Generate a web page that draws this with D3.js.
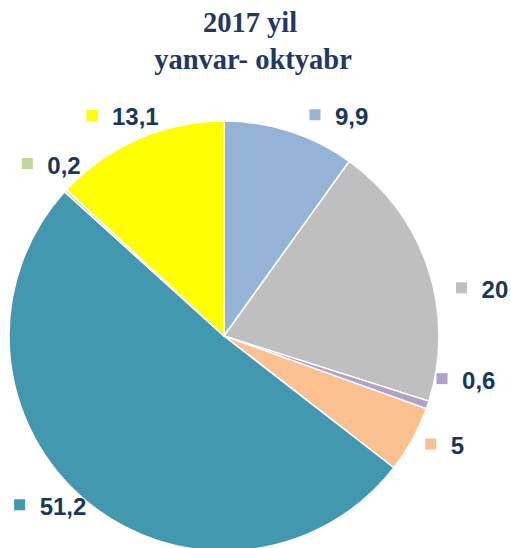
<!DOCTYPE html>
<html>
<head>
<meta charset="utf-8">
<script src="https://cdn.jsdelivr.net/npm/d3@7"></script>
<style>
  body { margin: 0; background: #fff; }
</style>
</head>
<body>
<div id="container"></div>
<script>
// slice values, clockwise from 12 o'clock
var values = [9.9, 20, 0.6, 5, 51.2, 0.2, 13.1];
var labels = ["9,9", "20", "0,6", "5", "51,2", "0,2", "13,1"];
var colors = ["#95B3D7", "#BFBFBF", "#B3A2C7", "#FAC090", "#4198AF", "#C3D69B", "#FFFF00"];
var titleLines = ["2017 yil", "yanvar- oktyabr"];

// manual label nudges (labels were dragged in the original)
var nudges = [[16, 12], [5, 29], [-14, -36], [-8, -10], [-47, -19], [-16, -7], [-34, 4]];

var width = 511, height = 548;
var cx = 224, cy = 336, radius = 215;

var svg = d3.select("#container")
  .append("svg")
  .attr("width", width)
  .attr("height", height);

// title
svg.append("g")
  .selectAll("text")
  .data(titleLines)
  .enter().append("text")
  .attr("x", function(d, i) { return i == 0 ? 250 : 253; })
  .attr("y", function(d, i) { return 32 + i * 36.5; })
  .attr("text-anchor", "middle")
  .attr("font-family", "'Liberation Serif', 'Times New Roman', serif")
  .attr("font-weight", "bold")
  .attr("font-size", "28.5px")
  .attr("fill", "#1F3864")
  .text(function(d) { return d; });

var pie = d3.pie().sort(null).value(function(d) { return d; });
var arcs = pie(values);

var arc = d3.arc().innerRadius(0).outerRadius(radius);
var labelArc = d3.arc().innerRadius(245).outerRadius(245);

var g = svg.append("g")
  .attr("transform", "translate(" + cx + "," + cy + ")");

g.selectAll("path")
  .data(arcs)
  .enter().append("path")
  .attr("d", arc)
  .attr("fill", function(d, i) { return colors[i]; })
  .attr("stroke", "#fff")
  .attr("stroke-width", 1.5);

var lab = g.selectAll("g.label")
  .data(arcs)
  .enter().append("g")
  .attr("class", "label")
  .attr("transform", function(d, i) {
    var p = labelArc.centroid(d);
    return "translate(" + (p[0] + nudges[i][0]) + "," + (p[1] + nudges[i][1]) + ")";
  });

lab.append("rect")
  .attr("x", -5.5)
  .attr("y", -5.5)
  .attr("width", 11)
  .attr("height", 11)
  .attr("fill", function(d, i) { return colors[i]; });

lab.append("text")
  .attr("x", 20)
  .attr("y", 10)
  .attr("font-family", "'Liberation Sans', Arial, sans-serif")
  .attr("font-weight", "bold")
  .attr("font-size", "24px")
  .attr("fill", "#17375E")
  .text(function(d, i) { return labels[i]; });
</script>
</body>
</html>
